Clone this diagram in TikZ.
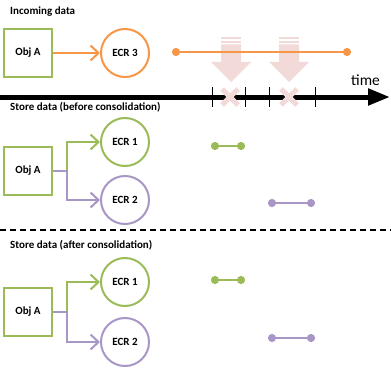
\documentclass[tikz,border=0pt]{standalone}
\usepackage{fontspec}
\setmainfont{Carlito}
\usetikzlibrary{positioning}
\usetikzlibrary{arrows.meta}

\definecolor{objgreen}{RGB}{155,187,89}
\definecolor{ecrorange}{RGB}{247,150,70}
\definecolor{ecrpurple}{RGB}{168,150,198}
\definecolor{droppink}{RGB}{242,218,216}

\begin{document}
\begin{tikzpicture}[
x=1pt, y=-1pt,
objnode/.style={rectangle, draw=objgreen, line width=2pt, minimum size=48pt,
inner sep=0pt, align=center, font=\bfseries\fontsize{11}{13}\selectfont},
ecrnode/.style={circle, line width=2pt, minimum size=48pt, inner sep=0pt,
align=center, font=\bfseries\fontsize{11}{13}\selectfont},
headnode/.style={anchor=west, inner sep=0pt, font=\bfseries\fontsize{11}{13}\selectfont},
link/.style={line width=2pt, -{Straight Barb[length=8pt,width=15pt]}},
span/.style={line width=2pt, {Circle[length=8pt]}-{Circle[length=8pt]}}
]
\useasboundingbox (0,0) rectangle (391,369);

%Nodes
\node[headnode] (headin) at (10,12) {Incoming data};
\node[objnode] (objA) at (28,53) {Obj A};
\node[ecrnode, draw=ecrorange] (ecr3) [right=47pt of objA] {ECR 3};
\node[anchor=south west, inner sep=0pt, font=\fontsize{15.5}{18}\selectfont] (time) at (351,86) {time};

\node[headnode] (headbefore) at (10,107) {Store data (before consolidation)};
\node[objnode] (objB) at (28,171) {Obj A};
\node[ecrnode, draw=objgreen] (ecr1B) at (125,142) {ECR 1};
\node[ecrnode, draw=ecrpurple] (ecr2B) at (125,200) {ECR 2};

\node[headnode] (headafter) at (10,245) {Store data (after consolidation)};
\node[objnode] (objC) at (28,312) {Obj A};
\node[ecrnode, draw=objgreen] (ecr1C) at (125,282) {ECR 1};
\node[ecrnode, draw=ecrpurple] (ecr2C) at (125,342) {ECR 2};

%Coordinates
\coordinate[right=14pt of objB] (juncB);
\coordinate[right=14pt of objC] (juncC);
\coordinate (in1) at (172,52);
\coordinate (in2) at (351,52);
\coordinate (b1) at (211,146);
\coordinate (b2) at (245,146);
\coordinate (b3) at (268,203);
\coordinate (b4) at (315,203);
\coordinate (c1) at (211,280);
\coordinate (c2) at (245,280);
\coordinate (c3) at (268,338);
\coordinate (c4) at (315,338);
\coordinate (tstart) at (0,97);
\coordinate (tend) at (390,97);
\coordinate (sepleft) at (0,230);
\coordinate (sepright) at (391,230);

%Drop arrows
\foreach \ax in {231,289} {
\fill[droppink] (\ax-10,37.5) rectangle (\ax+10,39.5);
\fill[droppink] (\ax-10,41) rectangle (\ax+10,43);
\fill[droppink] (\ax-10,44.5) -- (\ax+10,44.5) -- (\ax+10,62) -- (\ax+20,62)
  -- (\ax,82) -- (\ax-20,62) -- (\ax-10,62) -- cycle;
}

%Lines
\draw[link, ecrorange] (objA) -- (ecr3);
\draw[span, ecrorange] (in1) -- (in2);

\draw[line width=5pt, -{Triangle[length=22pt,width=16pt]}] (tstart) -- (tend);
\foreach \tx in {212,245,269,315}
\draw[line width=1pt] (\tx,87) -- (\tx,107);
\foreach \ax in {230,289} {
\draw[droppink, line width=5pt] (\ax-8,89) -- (\ax+8,105);
\draw[droppink, line width=5pt] (\ax-8,105) -- (\ax+8,89);
}

\draw[link, objgreen] (juncB) |- (ecr1B);
\draw[link, ecrpurple] (objB) -- (juncB) |- (ecr2B);
\draw[span, objgreen] (b1) -- (b2);
\draw[span, ecrpurple] (b3) -- (b4);

\draw[line width=1.2pt, dash pattern=on 6pt off 4pt] (sepleft) -- (sepright);

\draw[link, objgreen] (juncC) |- (ecr1C);
\draw[link, ecrpurple] (objC) -- (juncC) |- (ecr2C);
\draw[span, objgreen] (c1) -- (c2);
\draw[span, ecrpurple] (c3) -- (c4);

\end{tikzpicture}
\end{document}
